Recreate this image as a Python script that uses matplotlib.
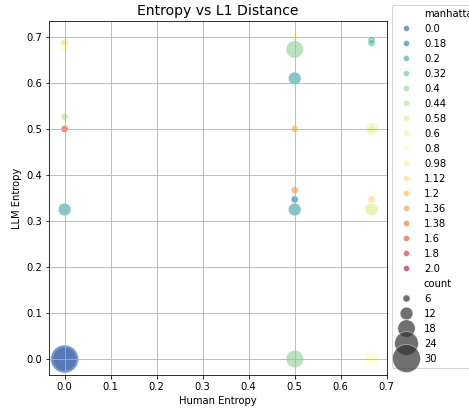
import pandas as pd
import seaborn as sns
from matplotlib import pyplot as plt

# points
human_entropy = [0.0, 0.0, 0.0, 0.0, 0.0, 0.0, 0.0,
                 0.5, 0.5, 0.5, 0.5, 0.5, 0.5, 0.5, 0.5, 0.5,
                 0.667, 0.667, 0.667, 0.667, 0.667, 0.667, 0.667]
llm_entropy = [0.688, 0.675, 0.527, 0.5, 0.325, 0.0, 0.0,
               0.7, 0.673, 0.61, 0.5, 0.5, 0.367, 0.347, 0.325, 0.0,
               0.693, 0.687, 0.5, 0.5, 0.347, 0.325, 0.0]
manhattan = [1.12, 0.8, 0.44, 1.6, 0.2, 0.0, 0.0,
             0.8, 0.4, 0.2, 0.98, 1.2, 1.36, 0.18, 0.2, 0.4,
             0.2, 0.32, 0.6, 0.58, 1.12, 0.58, 0.8]
count = [6, 6, 6, 6, 12, 24, 30,
         6, 18, 12, 6, 6, 6, 6, 12, 18,
         6, 6, 12, 6, 6, 12, 12]

levels = [0.0, 0.18, 0.2, 0.32, 0.4, 0.44, 0.58, 0.6, 0.8,
          0.98, 1.12, 1.2, 1.36, 1.38, 1.6, 1.8, 2.0]
size_levels = [6, 12, 18, 24, 30]
areas = [50, 160, 300, 560, 780]

df = pd.DataFrame({"human": human_entropy, "llm": llm_entropy,
                   "manhattan": manhattan, "count": count})

fig = plt.figure(figsize=(469 / 72, 410 / 72), dpi=72)
ax = fig.add_subplot(111)
fig.subplots_adjust(left=0.105, right=0.825, top=0.949, bottom=0.085)

sns.scatterplot(data=df, x="human", y="llm", hue="manhattan", hue_order=levels,
                size="count", sizes=dict(zip(size_levels, areas)),
                palette=sns.color_palette("Spectral_r", len(levels)),
                alpha=0.7, legend="full", ax=ax)

ax.set_title("Entropy vs L1 Distance", fontsize=14)
ax.set_xlabel("Human Entropy")
ax.set_ylabel("LLM Entropy")
ax.grid(True)
ax.legend(loc="upper left", bbox_to_anchor=(1.0, 1.06))

plt.savefig("out.png", dpi=72)
